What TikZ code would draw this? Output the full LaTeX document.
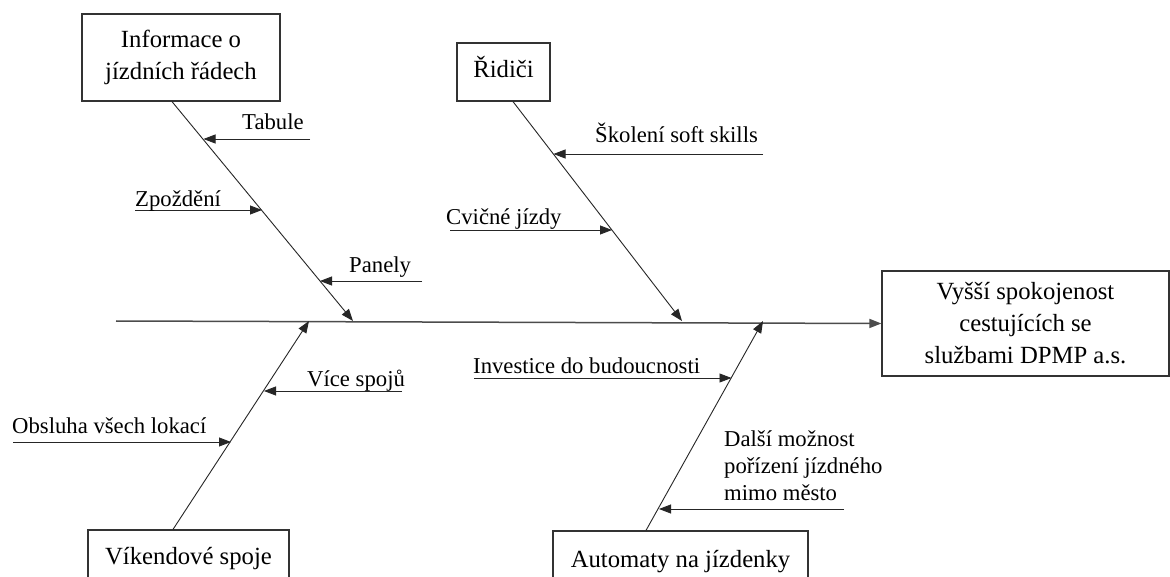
\documentclass[tikz,border=0pt]{standalone}
\usepackage{fontspec}
\setmainfont{Liberation Serif}
\newfontfamily\tnr{Liberation Serif}
\usetikzlibrary{arrows.meta,calc}
\begin{document}
\begin{tikzpicture}[x=1pt,y=-1pt,
  box/.style={draw=black!80, line width=1.2pt, align=center, inner sep=0pt,
    font=\tnr\fontsize{24.7}{32}\selectfont},
  oneline/.style={text height=17pt, text depth=5pt},
  lbl/.style={inner sep=0pt, anchor=base west, align=left,
    font=\tnr\fontsize{22.7}{27}\selectfont},
  tip/.style={-{Triangle[length=12pt,width=9pt]}},
  bone/.style={draw=black!85, line width=0.9pt, tip},
  spine/.style={draw=black!70, line width=1.5pt, tip},
]
\clip (0,0) rectangle (1170,577);
\fill[white] (0,0) rectangle (1170,577);

% cause categories and the effect
\node[box, minimum width=198pt, minimum height=87pt] (info) at (181,57.5) {Informace o\\jízdních řádech};
\node[box, oneline, minimum width=93pt, minimum height=58pt] (ridici) at (503.5,72) {Řidiči};
\node[box, oneline, minimum width=201pt, minimum height=56pt] (vikend) at (188.5,558) {Víkendové spoje};
\node[box, oneline, minimum width=255pt, minimum height=60pt] (autom) at (680.5,561) {Automaty na jízdenky};
\node[box, minimum width=287pt, minimum height=105pt] (effect) at (1025.5,323.5) {Vyšší spokojenost\\cestujících se\\službami DPMP a.s.};

% spine
\coordinate (spineL) at (116,321);
\draw[spine] (spineL) -- (effect.west);

% points where the bones meet the spine
\coordinate (j1) at (353,321);
\coordinate (j2) at (682,321);
\coordinate (j3) at (309,321);
\coordinate (j4) at (763,321);

\draw[bone] ([xshift=-9pt]info.south) -- (j1);
\draw[bone] ([xshift=9.5pt]ridici.south) -- (j2);
\draw[bone] ([xshift=-15.5pt]vikend.north) -- (j3);
\draw[bone] ([xshift=-34.5pt]autom.north) -- (j4);

% sub-causes: free ends and tips on the bones
\coordinate (tabA) at (310,139);   \coordinate (tabB) at (203.5,139);
\coordinate (zpoA) at (135,210);   \coordinate (zpoB) at (262,210);
\coordinate (panA) at (422,281);   \coordinate (panB) at (320,281);
\coordinate (skoA) at (763,154);   \coordinate (skoB) at (553.5,154);
\coordinate (cviA) at (450,230);   \coordinate (cviB) at (612,230);
\coordinate (vicA) at (402,391);   \coordinate (vicB) at (264,391);
\coordinate (obsA) at (13,442);    \coordinate (obsB) at (231,442);
\coordinate (invA) at (474,378);   \coordinate (invB) at (731.5,378);
\coordinate (dalA) at (844,509);   \coordinate (dalB) at (659,509);

\foreach \s in {tab,zpo,pan,sko,cvi,vic,obs,inv,dal}
  \draw[bone, line width=0.8pt] (\s A) -- (\s B);

% sub-cause labels
\node[lbl] (tabT) at (242,130) {Tabule};
\node[lbl] (zpoT) at (135,207) {Zpoždění};
\node[lbl] (panT) at (349,273) {Panely};
\node[lbl] (skoT) at (595,143) {Školení soft skills};
\node[lbl] (cviT) at (446,225) {Cvičné jízdy};
\node[lbl] (vicT) at (307,386) {Více spojů};
\node[lbl] (obsT) at (12,433) {Obsluha všech lokací};
\node[lbl] (invT) at (473,373) {Investice do budoucnosti};
\node[lbl] (dalT) at (724,500) {Další možnost\\pořízení jízdného\\mimo město};
\end{tikzpicture}
\end{document}
